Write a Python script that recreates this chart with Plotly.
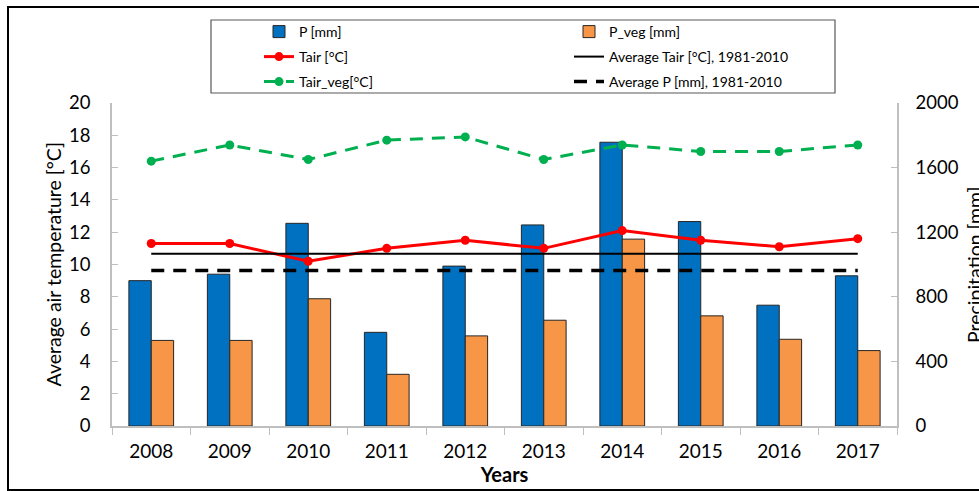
import plotly.graph_objects as go

years = ["2008", "2009", "2010", "2011", "2012", "2013", "2014", "2015", "2016", "2017"]
p_mm = [900, 940, 1255, 580, 990, 1245, 1757, 1266, 748, 930]
p_veg_mm = [530, 530, 788, 320, 558, 655, 1157, 682, 537, 467]
tair = [11.3, 11.3, 10.2, 11.0, 11.5, 11.0, 12.1, 11.5, 11.1, 11.6]
tair_veg = [16.4, 17.4, 16.5, 17.7, 17.9, 16.5, 17.4, 17.0, 17.0, 17.4]
avg_tair_1981_2010 = 10.67
avg_p_1981_2010 = 963

temp_ticks = [0, 2, 4, 6, 8, 10, 12, 14, 16, 18, 20]
precip_ticks = [0, 400, 800, 1200, 1600, 2000]

W, H = 979, 491
ML, MR, MT, MB = 112, 82, 103, 65
PW = W - ML - MR
PH = H - MT - MB


def px_x(x):
    return (x - ML) / PW


def px_y(y):
    return (H - MB - y) / PH


def cx(x):
    return x / W


def cy(y):
    return 1 - y / H


FONT = "Lato, 'Open Sans', sans-serif"

fig = go.Figure()
fig.add_trace(go.Bar(x=years, y=p_mm, name="P [mm]", yaxis="y", legend="legend",
                     marker=dict(color="#0070C0", line=dict(color="#262626", width=1))))
fig.add_trace(go.Bar(x=years, y=p_veg_mm, name="P_veg [mm]", yaxis="y", legend="legend",
                     marker=dict(color="#F79646", line=dict(color="#262626", width=1))))
fig.add_trace(go.Scatter(x=years, y=tair, name="Tair [°C]", yaxis="y2", mode="lines+markers",
                         legend="legend2",
                         line=dict(color="#FF0000", width=3), marker=dict(size=9, color="#FF0000")))
fig.add_trace(go.Scatter(x=years, y=[avg_tair_1981_2010] * len(years), name="Average Tair [°C], 1981-2010",
                         yaxis="y2", mode="lines", legend="legend2", line=dict(color="#000000", width=2)))
fig.add_trace(go.Scatter(x=years, y=tair_veg, name="Tair_veg[°C]", yaxis="y2", mode="lines+markers",
                         legend="legend3",
                         line=dict(color="#00B050", width=3, dash="13px,9px"),
                         marker=dict(size=9, color="#00B050")))
fig.add_trace(go.Scatter(x=years, y=[avg_p_1981_2010] * len(years), name="Average P [mm], 1981-2010",
                         yaxis="y", mode="lines", legend="legend3",
                         line=dict(color="#000000", width=3.5, dash="13px,9px")))


def leg(top):
    return dict(orientation="h", xref="container", yref="container", x=cx(259), y=cy(top),
                xanchor="left", yanchor="top", entrywidth=265, entrywidthmode="pixels",
                bgcolor="rgba(0,0,0,0)", borderwidth=0,
                font=dict(family=FONT, size=14, color="#000000"), traceorder="normal")


fig.update_layout(
    width=W, height=H,
    margin=dict(l=ML, r=MR, t=MT, b=MB, autoexpand=False),
    paper_bgcolor="white", plot_bgcolor="white",
    font=dict(family=FONT, size=19, color="#000000"),
    barmode="group", bargap=0.43, bargroupgap=0,
    showlegend=True,
    legend=leg(16), legend2=leg(41), legend3=leg(66),
    xaxis=dict(type="category", range=[-0.5, len(years) - 0.5], showline=True,
               linecolor="#BFBFBF", linewidth=1.5,
               ticks="outside", tickson="boundaries", ticklen=7, tickcolor="#BFBFBF",
               showgrid=False, tickfont=dict(size=19), ticklabelstandoff=7, automargin=False,
               title=dict(text="<b>Years</b>", font=dict(size=20), standoff=0)),
    yaxis=dict(side="right", range=[0, 2000], tickvals=precip_ticks, showline=True,
               linecolor="#BFBFBF", linewidth=1.5, ticks="inside", ticklen=6, tickcolor="#BFBFBF",
               showgrid=False, zeroline=False, tickfont=dict(size=18.5), ticklabelstandoff=13,
               automargin=False),
    yaxis2=dict(side="left", overlaying="y", range=[0, 20], tickvals=temp_ticks, showline=True,
                linecolor="#BFBFBF", linewidth=1.5, ticks="inside", ticklen=6, tickcolor="#BFBFBF",
                showgrid=False, zeroline=False, tickfont=dict(size=18.5), ticklabelstandoff=16,
                automargin=False),
    shapes=[
        dict(type="rect", xref="paper", yref="paper", x0=px_x(8), x1=px_x(990), y0=px_y(490), y1=px_y(7),
             line=dict(color="#000000", width=2), layer="below"),
        dict(type="rect", xref="paper", yref="paper", x0=px_x(211), x1=px_x(835), y0=px_y(93), y1=px_y(20),
             line=dict(color="#595959", width=1.2), layer="below"),
    ],
    annotations=[
        dict(text="Average air temperature [°C]", xref="paper", yref="paper", x=px_x(53), y=0.5,
             xanchor="center", yanchor="middle", textangle=-90, showarrow=False,
             font=dict(family=FONT, size=19.5)),
        dict(text="Precipitation [mm]", xref="paper", yref="paper", x=px_x(961), y=0.5,
             xanchor="left", yanchor="middle", textangle=-90, showarrow=False,
             font=dict(family=FONT, size=19.5)),
    ],
)

fig.write_html("out.html", config={"displayModeBar": False},
               post_script="document.body.style.margin='0';document.body.style.overflow='hidden';")
